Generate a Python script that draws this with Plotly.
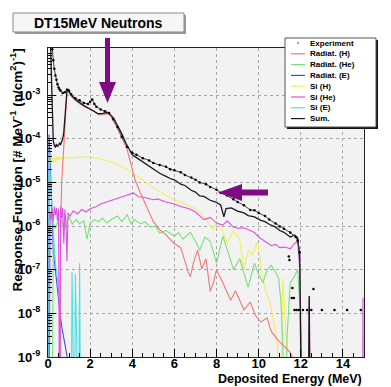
import plotly.graph_objects as go

# ---------------- data ----------------
ZERO = 1e-11  # empty bins (below the axis)

exp_E = [0.15, 0.2, 0.25, 0.3, 0.35, 0.4, 0.45, 0.5, 0.55, 0.6, 0.7, 0.8, 0.9, 1.0, 1.1, 1.3, 1.5, 1.7, 1.9, 2.0,
         2.1, 2.2, 2.3, 2.5, 2.7, 2.9, 3.1, 3.3, 3.5, 3.76, 4.0, 4.2, 4.5, 4.8, 5.0, 5.3, 5.6, 5.8, 6.0, 6.3,
         6.5, 6.8, 7.0, 7.2, 7.5, 7.7, 8.0, 8.2, 8.5, 8.8, 9.0, 9.3, 9.6, 9.8, 10.0, 10.3, 10.5, 10.8, 11.0, 11.2,
         11.5, 11.76, 11.85, 11.95]
exp_v = [2.5e-2, 1.12e-2, 6.3e-3, 4.0e-3, 2.8e-3, 2.24e-3, 1.78e-3, 1.5e-3, 1.35e-3, 1.26e-3, 1.12e-3, 1.17e-3,
         1.32e-3, 1.26e-3, 1.05e-3, 8.5e-4, 7.6e-4, 6.6e-4, 6.3e-4, 7.1e-4, 7.9e-4, 6.3e-4, 5.4e-4, 4.7e-4,
         4.3e-4, 3.9e-4, 2.8e-4, 1.86e-4, 1.12e-4, 6.5e-5, 4.8e-5, 4.3e-5, 3.6e-5, 3.2e-5, 2.8e-5, 2.5e-5,
         2.3e-5, 2.0e-5, 1.9e-5, 1.7e-5, 1.48e-5, 1.29e-5, 1.15e-5, 1.0e-5, 9.1e-6, 7.9e-6, 6.8e-6, 5.75e-6,
         5.0e-6, 4.1e-6, 3.55e-6, 3.0e-6, 2.34e-6, 2.3e-6, 2.0e-6, 1.7e-6, 1.41e-6, 1.15e-6, 9.8e-7, 8.7e-7,
         7.1e-7, 5.6e-7, 4.7e-7, 2.5e-7]
exp_tail_E = [11.43, 11.46, 11.57, 11.6, 11.67, 11.7, 11.8, 11.9, 12.1, 12.3, 12.5, 12.6, 13.0, 13.6, 14.2, 14.85]
exp_tail_v = [2.0e-7, 1.66e-7, 2.24e-8, 3.8e-8, 2.24e-8, 1.2e-8, 1.2e-8, 1.2e-8, 1.2e-8, 1.2e-8, 1.2e-8,
              3.6e-8, 1.2e-8, 1.2e-8, 1.2e-8, 1.2e-8]

radH_E = [0.55, 0.6, 0.65, 0.7, 0.75, 0.8, 0.85, 0.9, 0.95, 1.0, 1.1, 1.3, 1.5, 1.8, 2.0, 2.2, 2.5, 2.7, 2.85,
          3.0, 3.2, 3.5, 3.76, 4.0, 4.14, 4.4, 4.7, 5.0, 5.3, 5.6, 5.96, 6.3, 6.5, 6.65, 6.76, 6.9, 7.1, 7.3,
          7.5, 7.7, 7.85, 8.0, 8.3, 8.67, 8.9, 9.1, 9.3, 9.6, 9.85, 10.1, 10.4, 10.6, 10.9, 11.2, 11.5, 11.7, 11.8]
radH_v = [ZERO, 1e-6, 1e-5, 2.5e-5, 6.3e-5, 2.0e-4, 6.3e-4, 1.17e-3, 1.26e-3, 1.15e-3, 9.5e-4, 7.6e-4, 6.3e-4,
          5.25e-4, 4.7e-4, 4.2e-4, 3.55e-4, 3.6e-4, 3.8e-4, 3.2e-4, 2.1e-4, 1.1e-4, 5.6e-5, 2.0e-5, 1.12e-5,
          5.6e-6, 2.75e-6, 1.26e-6, 8.3e-7, 6.3e-7, 4.1e-7, 3.2e-7, 1.58e-7, 8.9e-8, 6.9e-8, 1.41e-7, 2.8e-7,
          1.05e-7, 1.78e-7, 3.2e-8, 5.0e-8, 1.0e-7, 5.0e-8, 2.0e-8, 3.3e-8, 2.0e-8, 1.2e-8, 1.82e-8, 8.9e-9,
          6.3e-9, 7.9e-9, 3.8e-9, 2.5e-9, 1.78e-9, 1.26e-9, 7.9e-10, ZERO]

radHe_E = [0.2, 0.25, 0.35, 0.45, 0.55, 0.65, 0.75, 0.85, 1.0, 1.15, 1.35, 1.5, 1.7, 1.85, 2.0, 2.2, 2.4, 2.6,
           2.8, 3.0, 3.3, 3.5, 3.76, 3.95, 4.1, 4.4, 4.6, 4.86, 5.1, 5.3, 5.6, 6.0, 6.2, 6.4, 6.76, 7.0, 7.2,
           7.45, 7.7, 8.0, 8.3, 8.55, 8.8, 9.1, 9.3, 9.5, 9.8, 10.0, 10.2, 10.4, 10.6, 10.8, 10.95, 11.05,
           11.15, 11.25, 11.35, 11.5, 11.7, 11.85, 11.95, 12.05]
radHe_v = [ZERO, 1.17e-6, 8.9e-7, 1.26e-6, 1.0e-6, 1.41e-6, 7.9e-7, 1.12e-6, 1.66e-6, 1.12e-6, 1.41e-6,
           1.12e-6, 1.32e-6, 5.0e-7, 1.17e-6, 1.41e-6, 1.26e-6, 1.51e-6, 1.17e-6, 1.41e-6, 1.7e-6, 1.26e-6,
           1.82e-6, 1.12e-6, 1.41e-6, 1.12e-6, 1.26e-6, 9.5e-7, 1.0e-6, 6.9e-7, 7.9e-7, 5.9e-7, 7.1e-7, 5.0e-7,
           7.2e-7, 4.5e-7, 2.8e-7, 5.6e-7, 4.5e-7, 1.41e-7, 5.9e-7, 2.5e-7, 1.0e-7, 1.78e-7, 7.9e-8, 4.0e-8,
           1.41e-7, 7.9e-8, 5.0e-8, 1.0e-7, 1.26e-7, 8.9e-8, 6.3e-8, 2.0e-8, 2.0e-9, ZERO, 3.2e-9, 5.0e-8,
           7.1e-8, 1.0e-7, 1.6e-8, ZERO]

radE_E = [0.03, 0.05, 0.1, 0.15, 0.2, 0.25, 0.35, 0.45, 0.55, 0.65, 0.75, 0.85, 0.95, 1.0]
radE_v = [ZERO, 1.26e-4, 3.2e-5, 5.0e-6, 1.0e-6, 2.8e-7, 1.0e-7, 3.2e-8, 1.26e-8, 5.0e-9, 2.5e-9, 1.41e-9,
          7.9e-10, ZERO]

siH_E = [0.1, 0.15, 0.2, 0.25, 0.3, 0.35, 0.4, 0.45, 0.5, 0.55, 0.6, 0.7, 0.8, 0.9, 1.0, 1.2, 1.5, 2.0, 2.5,
         3.0, 3.5, 4.0, 4.5, 5.0, 5.5, 6.0, 6.5, 7.0, 7.24, 7.5, 7.86, 8.0, 8.2, 8.5, 8.8, 9.1, 9.3, 9.5, 9.7,
         9.95, 10.1, 10.3, 10.5, 10.6, 10.75, 10.9, 11.0, 11.15, 11.3, 11.4]
siH_v = [2.8e-5, 3.3e-5, 3.7e-5, 2.8e-5, 3.8e-5, 3.0e-5, 4.0e-5, 3.2e-5, 3.8e-5, 3.3e-5, 3.9e-5, 3.4e-5,
         3.8e-5, 3.5e-5, 3.7e-5, 3.7e-5, 3.8e-5, 3.8e-5, 3.5e-5, 2.95e-5, 2.3e-5, 1.66e-5, 1.12e-5, 7.6e-6,
         5.4e-6, 4.0e-6, 3.2e-6, 2.5e-6, 2.0e-6, 1.41e-6, 8.1e-7, 1.26e-6, 1.0e-6, 4.1e-7, 7.9e-7, 5.0e-7,
         1.0e-7, 2.8e-7, 2.24e-7, 4.3e-7, 1.26e-7, 3.5e-8, 2.0e-8, 1.26e-8, 5.0e-9, 1.58e-9, ZERO, 6.3e-8,
         3.2e-9, ZERO]

siHe_E = [0.05, 0.1, 0.15, 0.2, 0.25, 0.3, 0.35, 0.4, 0.45, 0.5, 0.55, 0.6, 0.65, 0.7, 0.75, 0.8, 0.85, 0.9,
          0.95, 1.05, 1.2, 1.4, 1.6, 1.8, 2.0, 2.3, 2.5, 2.8, 3.1, 3.4, 3.7, 4.05, 4.3, 4.6, 5.0, 5.2, 5.6, 6.0,
          6.3, 6.7, 7.0, 7.4, 7.7, 8.0, 8.3, 8.5, 8.8, 9.0, 9.3, 9.6, 9.8, 10.0, 10.3, 10.6, 10.8, 11.0, 11.25,
          11.5, 11.7, 11.85, 11.95, 12.05, 12.1, 12.35, 12.4, 12.45, 14.93, 14.95, 14.97]
siHe_v = [ZERO, 2.0e-6, 1.41e-6, 2.5e-6, 1.26e-6, 2.8e-6, 1.78e-6, 2.6e-6, 1.32e-6, 2.5e-6, ZERO, 2.8e-6,
          1.51e-6, 2.6e-6, 4.0e-7, 2.4e-6, 1.26e-6, 1.58e-7, 2.0e-6, 1.7e-6, 2.24e-6, 1.9e-6, 2.4e-6, 2.1e-6,
          2.5e-6, 2.8e-6, 3.2e-6, 3.55e-6, 4.0e-6, 4.5e-6, 5.0e-6, 5.75e-6, 4.7e-6, 4.5e-6, 4.0e-6, 4.2e-6,
          3.55e-6, 3.2e-6, 2.8e-6, 2.5e-6, 2.1e-6, 1.41e-6, 1.58e-6, 1.17e-6, 1.05e-6, 1.32e-6, 9.5e-7, 8.9e-7,
          9.1e-7, 7.9e-7, 7.1e-7, 5.6e-7, 4.5e-7, 3.55e-7, 3.8e-7, 3.2e-7, 3.3e-7, 3.0e-7, 4.0e-7, 4.5e-7,
          1.0e-7, 1.58e-9, ZERO, ZERO, 2.5e-8, ZERO, ZERO, 2.24e-8, ZERO]

siE_E = [0.03, 0.05, 0.1, 0.15, 0.2, 0.25, 0.3, 0.35, 0.45, 0.55, 0.6, 0.65, 1.1, 1.14, 1.18, 1.26, 1.3, 1.34,
         1.45, 1.5, 1.55]
siE_v = [ZERO, 5.0e-5, 1.58e-5, 5.0e-6, 1.58e-6, 6.3e-7, 3.2e-7, 1.41e-7, 6.3e-8, 1.58e-8, 5.0e-9, ZERO, ZERO,
         8.9e-8, ZERO, ZERO, 7.9e-8, ZERO, ZERO, 1.41e-7, ZERO]

sum_E = [0.1, 0.15, 0.2, 0.25, 0.3, 0.35, 0.4, 0.45, 0.5, 0.55, 0.6, 0.65, 0.7, 0.75, 0.8, 0.85, 0.9, 0.95, 1.0,
         1.1, 1.3, 1.5, 1.7, 2.0, 2.2, 2.4, 2.6, 2.8, 2.95, 3.1, 3.3, 3.5, 3.7, 3.9, 4.0, 4.2, 4.5, 4.8, 5.0,
         5.3, 5.6, 5.8, 6.0, 6.3, 6.5, 6.8, 7.0, 7.2, 7.4, 7.7, 8.0, 8.2, 8.35, 8.45, 8.7, 9.0, 9.3, 9.5, 9.8,
         10.1, 10.3, 10.5, 10.8, 11.0, 11.2, 11.5, 11.7, 11.85, 11.95, 12.0, 12.05, 12.35, 12.4, 12.45]
sum_v = [3.2e-2, 3.2e-3, 3.2e-4, 8.9e-5, 7.1e-5, 6.3e-5, 7.6e-5, 6.6e-5, 7.1e-5, 7.9e-5, 7.4e-5, 8.9e-5,
         1.0e-4, 1.4e-4, 3.2e-4, 7.9e-4, 1.26e-3, 1.35e-3, 1.2e-3, 1.0e-3, 7.9e-4, 6.6e-4, 5.75e-4, 4.8e-4,
         4.2e-4, 3.7e-4, 3.8e-4, 4.0e-4, 3.6e-4, 3.0e-4, 2.0e-4, 1.32e-4, 7.9e-5, 5.0e-5, 4.3e-5, 3.7e-5,
         2.95e-5, 2.35e-5, 2.1e-5, 1.62e-5, 1.38e-5, 1.23e-5, 1.15e-5, 9.1e-6, 8.5e-6, 6.6e-6, 6.0e-6, 4.9e-6,
         4.8e-6, 3.9e-6, 3.5e-6, 3.0e-6, 1.62e-6, 2.5e-6, 2.6e-6, 2.2e-6, 2.0e-6, 1.74e-6, 1.62e-6, 1.35e-6,
         1.26e-6, 1.1e-6, 9.5e-7, 7.9e-7, 7.2e-7, 5.6e-7, 6.2e-7, 5.4e-7, 2.0e-7, 1.0e-8, ZERO, ZERO, 2.5e-8,
         ZERO]

series_names = ["Experiment", "Radiat. (H)", "Radiat. (He)", "Radiat. (E)", "Si (H)", "Si (He)", "Si (E)", "Sum."]
series_colors = ["#000000", "#f07878", "#78e078", "#4848e0", "#f0f060", "#e050e0", "#50e0e0", "#1a1a1a"]

x_ticks = [0, 2, 4, 6, 8, 10, 12, 14]
y_ticks = [1e-9, 1e-8, 1e-7, 1e-6, 1e-5, 1e-4, 1e-3]
y_ticktext = ["10<sup>-9</sup>", "10<sup>-8</sup>", "10<sup>-7</sup>", "10<sup>-6</sup>", "10<sup>-5</sup>",
              "10<sup>-4</sup>", "10<sup>-3</sup>"]

title_text = "DT15MeV Neutrons"
x_title = "Deposited Energy (MeV)"
y_title = "Response Function [# MeV<sup>-1</sup> (n/cm<sup>2</sup>)<sup>-1</sup>]"

# ---------------- layout geometry ----------------
W, H = 391, 387
L, R, T, B = 48, 364, 48, 357
FONT = "Liberation Sans, Arial, sans-serif"


def px(x):
    return (x - L) / (R - L)


def py(y):
    return (B - y) / (B - T)


fig = go.Figure()

order = [
    (radE_E, radE_v, 3), (siE_E, siE_v, 6), (siH_E, siH_v, 4), (radHe_E, radHe_v, 2),
    (radH_E, radH_v, 1), (siHe_E, siHe_v, 5), (sum_E, sum_v, 7),
]
for xs, ys, i in order:
    fig.add_trace(go.Scatter(x=xs, y=ys, mode="lines", name=series_names[i], showlegend=False,
                             line=dict(color=series_colors[i], width=1.1 if i != 7 else 1.3)))

fig.add_trace(go.Scatter(x=exp_E, y=exp_v, mode="lines+markers", name=series_names[0], showlegend=False,
                         line=dict(color="#444444", width=1), marker=dict(size=2.5, color="#000000")))
fig.add_trace(go.Scatter(x=exp_tail_E, y=exp_tail_v, mode="markers", name=series_names[0], showlegend=False,
                         marker=dict(size=2.5, color="#000000")))

shapes = []
annotations = []

# title box
shapes.append(dict(type="rect", xref="paper", yref="paper", x0=px(15), x1=px(186), y0=py(34), y1=py(15),
                   fillcolor="#9a9a9a", line=dict(width=0), layer="above"))
shapes.append(dict(type="rect", xref="paper", yref="paper", x0=px(13), x1=px(184), y0=py(32), y1=py(13),
                   fillcolor="#f6f6f6", line=dict(color="#8a8a8a", width=1), layer="above"))
annotations.append(dict(text=title_text, xref="paper", yref="paper", x=px(98.5), y=py(22.5), showarrow=False,
                        xanchor="center", yanchor="middle",
                        font=dict(family=FONT, size=14, color="black", weight="bold")))

# legend box (drawn by hand)
shapes.append(dict(type="rect", xref="paper", yref="paper", x0=px(287), x1=px(378), y0=py(129), y1=py(40),
                   fillcolor="#111111", line=dict(width=0), layer="above"))
shapes.append(dict(type="rect", xref="paper", yref="paper", x0=px(285), x1=px(376), y0=py(127), y1=py(38),
                   fillcolor="white", line=dict(color="#555555", width=1), layer="above"))
for k, name in enumerate(series_names):
    yc = 43 + k * 10.8
    if k == 0:
        shapes.append(dict(type="circle", xref="paper", yref="paper", x0=px(297.3), x1=px(298.7),
                           y0=py(yc + 0.7), y1=py(yc - 0.7), fillcolor="black", line=dict(width=0),
                           layer="above"))
    else:
        shapes.append(dict(type="line", xref="paper", yref="paper", x0=px(291), x1=px(305), y0=py(yc),
                           y1=py(yc), line=dict(color=series_colors[k], width=1.2), layer="above"))
    annotations.append(dict(text=name, xref="paper", yref="paper", x=px(308), y=py(yc), showarrow=False,
                            xanchor="left", yanchor="middle",
                            font=dict(family=FONT, size=8, color="black", weight="bold")))

# purple arrows
ARROW = "#7d0c82"


def poly(points):
    p = "M " + " L ".join(f"{px(a):.5f},{py(b):.5f}" for a, b in points) + " Z"
    return dict(type="path", xref="paper", yref="paper", path=p, fillcolor=ARROW, line=dict(width=0),
                layer="above")


shapes.append(poly([(105, 38), (110, 38), (110, 82), (116, 82), (107.5, 103), (99, 82), (105, 82)]))
shapes.append(poly([(268, 189.5), (268, 195.5), (242, 195.5), (242, 201), (218, 192.5), (242, 184),
                    (242, 189.5)]))

# axis titles
annotations.append(dict(text=x_title, xref="paper", yref="paper", x=px(363), y=py(387), showarrow=False,
                        xanchor="right", yanchor="bottom", borderpad=0,
                        font=dict(family=FONT, size=12.5, color="black", weight="bold")))
annotations.append(dict(text=y_title, xref="paper", yref="paper", x=px(17), y=py(47), showarrow=False,
                        textangle=-90, xanchor="center", yanchor="top",
                        font=dict(family=FONT, size=13.5, color="black", weight="bold")))

minor_y = [m * 10.0 ** e for e in range(-9, -1) for m in range(2, 10)]

fig.update_layout(
    width=W, height=H, autosize=False,
    margin=dict(l=L, r=W - R, t=T, b=H - B, pad=0),
    paper_bgcolor="white", plot_bgcolor="#f2f2f2",
    showlegend=False,
    shapes=shapes, annotations=annotations,
    xaxis=dict(range=[0, 15], tickvals=x_ticks, ticks="inside", ticklen=8, tickcolor="black",
               showline=True, linecolor="#222222", linewidth=1, mirror=True,
               showgrid=True, gridcolor="#a8a8a8", griddash="dot", gridwidth=1, zeroline=False,
               tickfont=dict(family=FONT, size=13, color="black", weight="bold"), ticklabelstandoff=-6,
               minor=dict(dtick=0.5, ticks="inside", ticklen=4, tickcolor="black", showgrid=False)),
    yaxis=dict(type="log", range=[-9, -1.92], tickvals=y_ticks, ticktext=y_ticktext,
               ticks="inside", ticklen=8, tickcolor="black",
               showline=True, linecolor="#222222", linewidth=1, mirror=True,
               showgrid=True, gridcolor="#a8a8a8", griddash="dot", gridwidth=1, zeroline=False,
               tickfont=dict(family=FONT, size=13, color="black", weight="bold"), ticklabelstandoff=4,
               minor=dict(tickvals=minor_y, ticks="inside", ticklen=4, tickcolor="black", showgrid=False)),
)

fig.write_html("out.html")
